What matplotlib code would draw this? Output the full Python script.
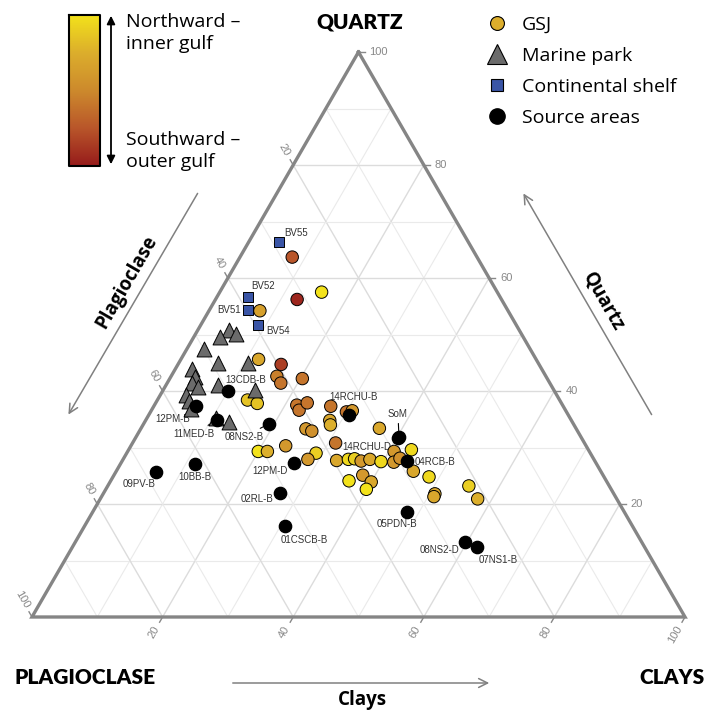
import numpy as np
import matplotlib
matplotlib.use("Agg")
import matplotlib.pyplot as plt
from matplotlib.colors import LinearSegmentedColormap
from matplotlib.lines import Line2D

# compositions in % (plagioclase = 100 - quartz - clays)
gsj_quartz = [63.7, 56.2, 57.5, 54.2, 45.6, 44.7, 42.6, 41.4, 42.2, 38.4, 37.8, 37.5,
              36.6, 37.9, 37.3, 36.3, 36.5, 34.8, 34.0, 33.3, 32.9, 33.4, 30.8, 30.3,
              29.3, 29.3, 29.0, 27.9, 27.7, 27.9, 28.0, 27.6, 27.9, 27.5, 29.3, 27.4,
              28.1, 29.6, 25.8, 24.8, 24.1, 25.1, 23.9, 22.6, 23.2, 21.8, 21.3, 20.9]
gsj_clays = [8.0, 12.5, 15.6, 7.8, 11.9, 15.8, 16.2, 17.4, 20.3, 13.8, 15.6, 21.8,
             22.6, 23.2, 27.1, 30.0, 30.8, 28.2, 28.7, 25.3, 26.4, 36.5, 31.1, 23.7,
             20.0, 21.4, 29.0, 28.3, 32.8, 34.5, 35.4, 36.6, 37.8, 39.7, 40.8, 41.7,
             42.3, 43.3, 45.5, 48.4, 36.5, 38.1, 40.0, 39.9, 55.3, 50.8, 50.9, 57.8]
# position along the gulf: 0 = southward / outer, 1 = northward / inner
gsj_north = [0.25, 0.05, 1.0, 0.65, 0.7, 0.15, 0.45, 0.4, 0.4, 0.85, 0.85, 0.4,
             0.4, 0.4, 0.4, 0.4, 0.6, 0.7, 0.75, 0.6, 0.55, 0.7, 0.4, 0.6,
             1.0, 0.75, 0.9, 0.6, 0.7, 0.95, 0.9, 0.6, 0.7, 0.95, 0.6, 0.6,
             0.55, 0.95, 0.7, 0.95, 1.0, 0.6, 0.7, 1.0, 0.9, 0.7, 0.7, 0.75]

park_quartz = [50.8, 50.1, 49.5, 47.4, 44.9, 44.9, 43.9, 42.5, 41.5, 40.7, 41.1, 40.1,
               39.3, 38.2, 36.8, 35.3, 34.6]
park_clays = [4.8, 6.2, 4.0, 2.7, 6.1, 10.6, 2.5, 3.7, 3.8, 5.0, 8.0, 14.1,
              3.9, 4.9, 5.9, 10.5, 12.8]

shelf_names = ["BV55", "BV52", "BV51", "BV54"]
shelf_quartz = [66.3, 56.7, 54.3, 51.7]
shelf_clays = [4.6, 4.7, 6.0, 8.8]

source_names = ["13CDB-B", "12PM-B", "11MED-B", "08NS2-B", "12PM-D", "09PV-B", "10BB-B",
                "02RL-B", "01CSCB-B", "14RCHU-B", "SoM", "14RCHU-D", "04RCB-B",
                "05PDN-B", "08NS2-D", "07NS1-B"]
source_quartz = [40.0, 37.3, 34.9, 34.2, 27.2, 25.7, 27.0, 21.9, 16.1, 35.8, 31.8, 31.6,
                 27.6, 18.6, 13.3, 12.4]
source_clays = [10.0, 6.4, 10.9, 19.2, 26.5, 6.2, 11.4, 27.1, 30.7, 30.7, 40.3, 40.2,
                43.7, 48.1, 59.7, 62.0]

# label placement (pixels from the point, image y down) and leader line flag
shelf_lab = {"BV55": (6, -9, "left", False), "BV52": (15, -11, "center", False),
             "BV51": (-8, 0, "right", False), "BV54": (8, 6, "left", False)}
source_lab = {"13CDB-B": (18, -11, False), "12PM-B": (-23, 13, True),
              "11MED-B": (-23, 14, True), "08NS2-B": (-25, 13, True),
              "12PM-D": (-24, 8, False), "09PV-B": (-17, 12, False),
              "10BB-B": (0, 13, False), "02RL-B": (-23, 6, False),
              "01CSCB-B": (19, 14, False), "14RCHU-B": (4, -18, False),
              "SoM": (-1, -23, True), "14RCHU-D": (-31, 9, True),
              "04RCB-B": (28, 1, False), "05PDN-B": (-10, 12, False),
              "08NS2-D": (-26, 8, False), "07NS1-B": (21, 13, False)}

# triangle in figure pixels
LX, RX, BY = 32.0, 685.0, 617.0
TOPY = 52.0
W, H = RX - LX, BY - TOPY


def tern(q, c):
    q = np.asarray(q, float)
    c = np.asarray(c, float)
    return LX + (c + q / 2) / 100 * W, BY - q / 100 * H


gulf_cmap = LinearSegmentedColormap.from_list(
    "gulf", ["#961b1b", "#b9562a", "#cd8a2d", "#dcae2c", "#f3e21b"])

fig = plt.figure(figsize=(7.07, 7.11), dpi=100)
ax = fig.add_axes([0, 0, 1, 1])
ax.set_xlim(0, 707)
ax.set_ylim(711, 0)
ax.axis("off")

# grid
for v in range(10, 100, 10):
    col, lw = ("#dcdcdc", 1.0) if v % 20 == 0 else ("#eaeaea", 0.8)
    for q, c in [([v, v], [0, 100 - v]), ([0, 100 - v], [v, v]), ([100 - v, 0], [0, 100 - v])]:
        x, y = tern(q, c)
        ax.plot(x, y, color=col, lw=lw, zorder=1)

# ticks and tick labels
tl_font = dict(family="Liberation Sans", size=8, color="#888888")
d_plag = np.array([-(W / 2), -H]) / np.hypot(W / 2, H)
d_clay = np.array([-(W / 2), H]) / np.hypot(W / 2, H)
gap = 11
for v in [20, 40, 60, 80, 100]:
    # quartz on right edge
    x, y = tern(v, 100 - v)
    ax.plot([x, x + 6], [y, y], color="#888888", lw=1, zorder=2)
    ax.text(x + gap, y, str(v), ha="left", va="center", **tl_font)
    # plagioclase on left edge
    x, y = tern(100 - v, 0)
    ax.plot([x, x + 6 * d_plag[0]], [y, y + 6 * d_plag[1]], color="#888888", lw=1, zorder=2)
    ax.text(x + gap * d_plag[0], y + gap * d_plag[1], str(v), ha="right", va="center",
            rotation=-60, rotation_mode="anchor", **tl_font)
    # clays on bottom edge
    x, y = tern(0, v)
    ax.plot([x, x + 6 * d_clay[0]], [y, y + 6 * d_clay[1]], color="#888888", lw=1, zorder=2)
    ax.text(x + gap * d_clay[0], y + gap * d_clay[1], str(v), ha="right", va="center",
            rotation=60, rotation_mode="anchor", **tl_font)

# border
bx, by = tern([100, 0, 0, 100], [0, 0, 100, 0])
ax.plot(bx, by, color="#858585", lw=2.4, solid_joinstyle="miter", zorder=2)

# data
pt_edge = dict(edgecolors="black", linewidths=0.7, zorder=4)
x, y = tern(gsj_quartz, gsj_clays)
ax.scatter(x, y, s=80, c=gsj_north, cmap=gulf_cmap, vmin=0, vmax=1, marker="o", **pt_edge)
x, y = tern(park_quartz, park_clays)
ax.scatter(x, y, s=115, color="#6b6b6b", marker="^", **pt_edge)
x, y = tern(shelf_quartz, shelf_clays)
ax.scatter(x, y, s=48, color="#3a55a6", marker="s", **pt_edge)
x, y = tern(source_quartz, source_clays)
ax.scatter(x, y, s=78, color="black", marker="o", zorder=5)

lab_font = dict(family="Liberation Sans", size=7, color="#333333")
for name, q, c in zip(shelf_names, shelf_quartz, shelf_clays):
    dx, dy, ha, _ = shelf_lab[name]
    px, py = tern(q, c)
    ax.annotate(name, (px, py), xytext=(dx, -dy), textcoords="offset pixels",
                ha=ha, va="center", zorder=3, **lab_font)
for name, q, c in zip(source_names, source_quartz, source_clays):
    dx, dy, lead = source_lab[name]
    px, py = tern(q, c)
    arrow = dict(arrowstyle="-", color="black", lw=0.8, shrinkA=1, shrinkB=0) if lead else None
    ax.annotate(name, (px, py), xytext=(dx, -dy), textcoords="offset pixels",
                ha="center", va="center", arrowprops=arrow, zorder=3, **lab_font)

# vertex and axis titles
vt_font = dict(family="Lato", weight="heavy", size=15, color="black")
ax.text(360, 22, "QUARTZ", ha="center", va="center", **vt_font)
ax.text(85, 677, "PLAGIOCLASE", ha="center", va="center", **vt_font)
ax.text(672, 677, "CLAYS", ha="center", va="center", **vt_font)

ax_font = dict(family="Open Sans", weight="bold", size=13.5, color="black")
ar = dict(arrowstyle="->", color="#808080", lw=1.1, mutation_scale=16)
ax.annotate("", xy=(67, 417), xytext=(199, 191), arrowprops=ar)
ax.text(127, 282, "Plagioclase", rotation=60, ha="center", va="center", **ax_font)
ax.annotate("", xy=(522, 191), xytext=(653, 417), arrowprops=ar)
ax.text(603, 302, "Quartz", rotation=-60, ha="center", va="center", **ax_font)
ax.annotate("", xy=(492, 683), xytext=(230, 683), arrowprops=ar)
ax.text(362, 700, "Clays", ha="center", va="center", **ax_font)

# colour bar for the gulf gradient
ax.imshow(np.linspace(1, 0, 256).reshape(-1, 1), cmap=gulf_cmap, aspect="auto",
          extent=[69, 100, 166, 15], zorder=2)
ax.plot([69, 100, 100, 69, 69], [15, 15, 166, 166, 15], color="black", lw=1.5, zorder=3)
ax.annotate("", xy=(111, 13), xytext=(111, 167),
            arrowprops=dict(arrowstyle="<|-|>", color="black", lw=1.3, mutation_scale=12))
lg_font = dict(family="Open Sans", size=14, color="black")
ax.text(126, 13, "Northward \u2013\ninner gulf", ha="left", va="top", linespacing=1.3, **lg_font)
ax.text(126, 171, "Southward \u2013\nouter gulf", ha="left", va="bottom", linespacing=1.3, **lg_font)

handles = [
    Line2D([], [], ls="", marker="o", ms=10, mfc="#dcae2c", mec="black", mew=0.8, label="GSJ"),
    Line2D([], [], ls="", marker="^", ms=14, mfc="#6b6b6b", mec="black", mew=0.8, label="Marine park"),
    Line2D([], [], ls="", marker="s", ms=8.5, mfc="#3a55a6", mec="black", mew=0.8, label="Continental shelf"),
    Line2D([], [], ls="", marker="o", ms=11, mfc="black", mec="black", label="Source areas"),
]
ax.legend(handles=handles, loc="upper left", bbox_to_anchor=(477.5 / 707, 1 - 8 / 711),
          frameon=False, prop={"family": "Open Sans", "size": 14}, handletextpad=0.69,
          labelspacing=0.67, handlelength=1.2, borderaxespad=0)

fig.savefig("out.png", dpi=100)
